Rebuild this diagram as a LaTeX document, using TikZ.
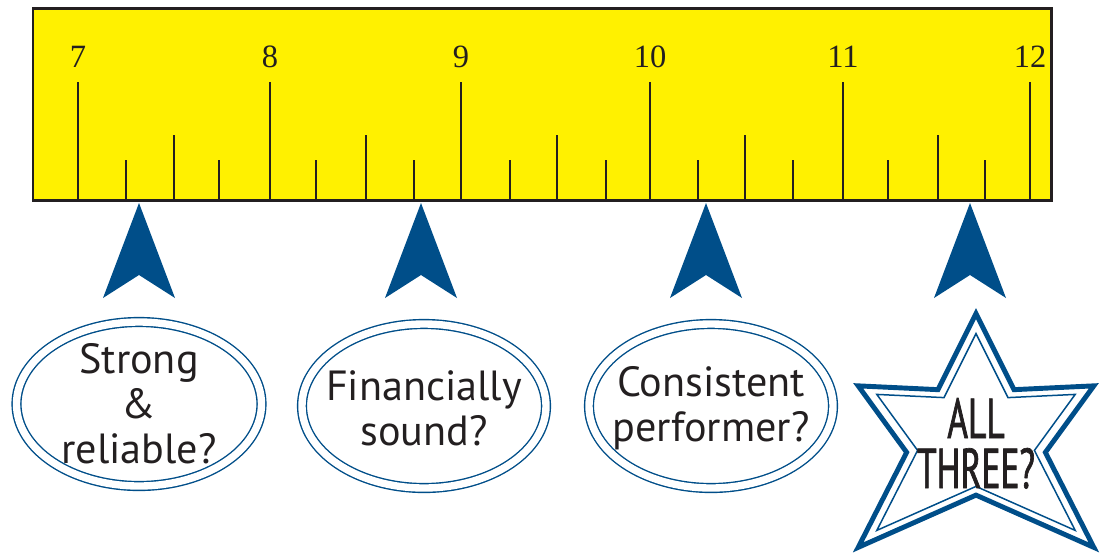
\documentclass[tikz,border=0pt]{standalone}
\usepackage{fontspec}
\setmainfont{PT Sans}
\newfontfamily\numfont{Liberation Serif}
\newfontfamily\starfont[FakeStretch=0.63,FakeBold=1.2]{PT Sans}
\usepackage{tikz}
\usepackage{xcolor}
\definecolor{rulery}{HTML}{FFF100}
\definecolor{inkdark}{HTML}{231F20}
\definecolor{navy}{HTML}{004E89}

\begin{document}
\begin{tikzpicture}[x=0.02cm,y=-0.02cm,
    tick/.style={inkdark,line width=1.4pt},
    numlabel/.style={anchor=base,text=inkdark,font=\numfont\fontsize{18.5}{20}\selectfont},
    bubble/.style={draw=navy,line width=0.8pt,double=white,double distance=4.2pt},
    bubbletext/.style={align=center,text=inkdark,font=\fontsize{24}{25.6}\selectfont},
    startext/.style={anchor=base,inner sep=0pt,text=inkdark,font=\starfont\fontsize{32}{34}\selectfont}]
    \useasboundingbox (0,0) rectangle (1109,556);
    % ruler
    \draw [fill=rulery,draw=inkdark,line width=1.7pt] (33,8) rectangle (1051,200);
    \foreach \x/\n in {78/7,270/8,461/9,650/10,843/11,1030/12} {
        \draw [tick] (\x,200) -- (\x,82);
        \node [numlabel] (n\n) at (\x,67) {\n};
    }
    \foreach \x in {126,219,316,414,510,606,698,793,888,985}
        \draw [tick] (\x,200) -- (\x,160);
    \foreach \x in {174,366,557,745,938}
        \draw [tick] (\x,200) -- (\x,135);
    % pointers
    \foreach \x in {139,421,706,970}
        \fill [navy] (\x,203) -- ++(-36,95) -- ++(36,-23) -- ++(36,23) -- cycle;
    % questions
    \node [bubbletext] (strong) at (139,404) {Strong\\\&\\reliable?};
    \node [bubbletext] (sound) at (424,408) {Financially\\sound?};
    \node [bubbletext] (perf) at (711,408) {Consistent\\performer?};
    \draw [bubble] (strong.center) ellipse [x radius=122.5,y radius=82];
    \draw [bubble] (424,406) ellipse [x radius=122,y radius=82];
    \draw [bubble] (711,406) ellipse [x radius=122,y radius=82];
    % star
    \begin{scope}[shift={(976,440)}]
        \draw [navy,line width=2.8pt,line join=miter,scale=0.95]
            (0,-133) -- (40,-53) -- (124,-57) -- (73,13) -- (124,113) -- (0,58)
            -- (-124,113) -- (-73,13) -- (-124,-57) -- (-40,-53) -- cycle;
        \draw [navy,line width=0.85pt,line join=miter,scale=0.8]
            (0,-133) -- (40,-53) -- (124,-57) -- (73,13) -- (124,113) -- (0,58)
            -- (-124,113) -- (-73,13) -- (-124,-57) -- (-40,-53) -- cycle;
    \end{scope}
    \node [startext] (all) at (976,438) {ALL};
    \node [startext] (three) at (976,488) {THREE?};
\end{tikzpicture}
\end{document}
